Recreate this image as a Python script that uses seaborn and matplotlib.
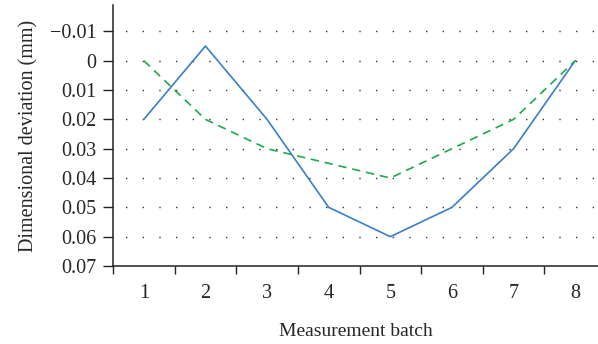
import numpy as np
import pandas as pd
import matplotlib
matplotlib.use('Agg')
import matplotlib.pyplot as plt
import seaborn as sns

# data
batch = [1, 2, 3, 4, 5, 6, 7, 8]
blue_dev = [0.02, -0.005, 0.02, 0.05, 0.06, 0.05, 0.03, 0.0]
green_dev = [0.0, 0.02, 0.03, 0.035, 0.04, 0.03, 0.02, 0.0]
ytick_vals = [-0.01, 0, 0.01, 0.02, 0.03, 0.04, 0.05, 0.06, 0.07]
ytick_labels = ['\u22120.01', '0', '0.01', '0.02', '0.03', '0.04', '0.05', '0.06', '0.07']

sns.set_style('ticks')
plt.rcParams['font.family'] = ['Liberation Serif', 'DejaVu Serif']

fig = plt.figure(figsize=(5.98, 3.44), dpi=100)
ax = fig.add_axes([113/598, 1 - 266/344, 1 - 113/598, (266 - 5)/344])

sns.lineplot(x=batch, y=blue_dev, color='#3a7dc9', linewidth=1.2, ax=ax)
sns.lineplot(x=batch, y=green_dev, color='#1aab4b', linewidth=1.2,
             linestyle=(0, (5, 3.5)), ax=ax)

ax.set_ylim(0.07, -0.019)
ax.set_xlim(0.5, 8.37)
ax.set_yticks(ytick_vals)
ax.set_yticklabels(ytick_labels, fontsize=14.5)
ax.set_xticks(batch)
ax.set_xticklabels([str(b) for b in batch], fontsize=14.5)
ax.set_xticks(np.arange(0.5, 8.0, 1.0), minor=True)
ax.tick_params(axis='x', which='major', length=0, pad=13)
ax.tick_params(axis='x', which='minor', length=6, width=1, color='#222222', direction='out')
ax.tick_params(axis='y', length=7, width=1, color='#222222', direction='out', pad=5)

for v in ytick_vals[:-1]:
    ax.axhline(v, color='#333333', linewidth=1.0, linestyle=(3, (1, 11)), zorder=0)

sns.despine(ax=ax, top=True, right=True)
ax.spines['left'].set_color('#222222')
ax.spines['bottom'].set_color('#222222')
ax.spines['left'].set_linewidth(1.1)
ax.spines['bottom'].set_linewidth(1.1)

ax.set_xlabel('Measurement batch', fontsize=14, labelpad=14)
ax.set_ylabel('Dimensional deviation (mm)', fontsize=14.5, labelpad=8)

fig.savefig('out.png', dpi=100)
